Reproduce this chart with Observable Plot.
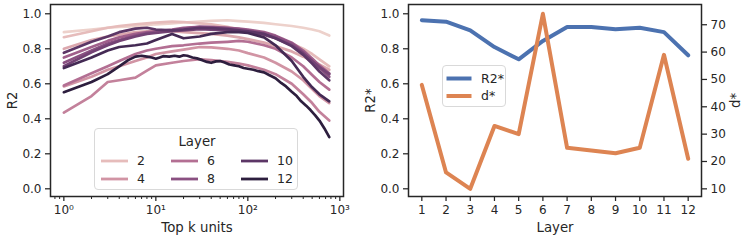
<!DOCTYPE html>
<html><head><meta charset="utf-8">
<script src="https://cdn.jsdelivr.net/npm/d3@7"></script>
<script src="https://cdn.jsdelivr.net/npm/@observablehq/plot@0.6"></script>
<style>
html,body{margin:0;padding:0;background:#fff;}
#wrap{position:relative;width:747px;height:240px;font-family:"DejaVu Sans",sans-serif;color:#262626;overflow:hidden;background:#fff}
.pane{position:absolute;top:0}
.legend{position:absolute;background:rgba(255,255,255,0.85);border:1px solid #d9d9d9;border-radius:4px;box-sizing:border-box}
.legend svg{position:absolute;left:0;top:0;overflow:visible}
</style></head><body><div id="wrap"></div>
<script>
// ---------- data ----------
const kUnits = [1,2,3,4,6,8,10,15,20,30,40,60,80,100,150,200,300,400,500,600,768];
const layer1  = [.895,.91,.92,.925,.93,.935,.94,.945,.95,.955,.96,.963,.958,.955,.948,.94,.93,.92,.91,.90,.876];
const layer2  = [.866,.90,.92,.93,.94,.945,.95,.955,.953,.945,.94,.925,.91,.90,.88,.86,.83,.80,.77,.74,.70];
const layer3  = [.80,.85,.87,.88,.895,.90,.905,.90,.895,.89,.885,.875,.865,.855,.835,.815,.785,.755,.73,.71,.68];
const layer4  = [.585,.64,.68,.70,.73,.75,.77,.785,.795,.81,.808,.80,.79,.775,.75,.72,.67,.62,.57,.53,.49];
const layer5  = [.435,.53,.61,.62,.635,.675,.705,.72,.73,.74,.735,.725,.715,.705,.68,.655,.60,.54,.49,.44,.39];
const layer6  = [.59,.66,.70,.73,.77,.79,.80,.815,.82,.83,.835,.84,.845,.84,.82,.80,.75,.70,.65,.61,.567];
const layer7  = [.75,.81,.845,.865,.885,.895,.90,.91,.92,.925,.925,.92,.915,.91,.895,.875,.835,.79,.745,.705,.66];
const layer8  = [.72,.79,.83,.85,.875,.89,.895,.905,.915,.925,.922,.918,.912,.906,.89,.87,.83,.78,.73,.69,.64];
const layer9  = [.70,.78,.82,.845,.87,.885,.89,.90,.905,.912,.91,.905,.90,.895,.88,.86,.82,.775,.73,.695,.655];
const layer10 = [.777,.84,.87,.895,.915,.92,.91,.905,.91,.92,.918,.912,.905,.90,.885,.86,.815,.765,.715,.67,.62];
const layer11 = [.69,.75,.79,.81,.82,.83,.85,.885,.86,.87,.885,.895,.895,.89,.865,.82,.73,.64,.58,.54,.50];
// layer 12 is read at more k values (its curve is visibly jagged)
const kUnitsL12 = [1,2,3,4,5,6,7,8,9,10,11,12,14,16,18,20,22,25,28,32,36,40,45,50,56,63,71,80,90,100,115,130,150,170,200,230,260,300,340,380,430,480,540,600,680,768];
const layer12   = [.552,.61,.655,.70,.735,.755,.76,.755,.75,.743,.75,.758,.755,.76,.755,.763,.76,.75,.745,.735,.725,.72,.728,.73,.722,.71,.705,.70,.69,.686,.68,.672,.665,.65,.632,.605,.585,.555,.53,.50,.475,.45,.42,.39,.345,.295];
const layerSeries = [layer1,layer2,layer3,layer4,layer5,layer6,layer7,layer8,layer9,layer10,layer11];

const layers = [1,2,3,4,5,6,7,8,9,10,11,12];
const r2Star = [.963,.955,.905,.81,.74,.845,.925,.925,.912,.92,.895,.763];
const dStar  = [48,16,10,33,30,74,25,24,23,25,59,21];

const kMajorTicks = [1,10,100,1000];
const kTickLabels = ["10⁰","10¹","10²","10³"];
const kMinorTicks = [0.8,0.9,2,3,4,5,6,7,8,9,20,30,40,50,60,70,80,90,200,300,400,500,600,700,800,900];
const r2Ticks = [0,0.2,0.4,0.6,0.8,1.0];
const dTicks = [10,20,30,40,50,60,70];
const legendLayers = [2,4,6,8,10,12];
const seriesNames = ["R2*","d*"];
const seriesColors = ["#4c72b0","#dd8452"];

// ---------- seaborn "ch:" cubehelix ----------
function helix(x){
  const start=0, rot=0.4, hue=0.8;
  const a = hue*x*(1-x)/2;
  const phi = 2*Math.PI*(start/3 + rot*x);
  const c = Math.cos(phi), s = Math.sin(phi);
  const r = x + a*(-0.14861*c + 1.78277*s);
  const g = x + a*(-0.29227*c - 0.90649*s);
  const b = x + a*(1.97294*c);
  const f = v => Math.round(Math.max(0,Math.min(1,v))*255);
  return `rgb(${f(r)},${f(g)},${f(b)})`;
}

const rows = layerSeries.flatMap((vals,i)=>vals.map((v,j)=>({k:kUnits[j], r2:v, layer:i+1})))
  .concat(layer12.map((v,j)=>({k:kUnitsL12[j], r2:v, layer:12})));
const ink = "#262626";
const style = {fontFamily:'"DejaVu Sans", sans-serif', fontSize:"12px", color:ink, background:"transparent", overflow:"visible"};
const H = 240;
const labelSize = 13.3;

const wrap = document.getElementById("wrap");
function place(node, left){ const d=document.createElement("div"); d.className="pane"; d.style.left=left+"px"; d.appendChild(node); wrap.appendChild(d); return d; }

function xTitle(t){ return Plot.text([t],{text:d=>d, frameAnchor:"bottom", textAnchor:"middle", lineAnchor:"middle", dy:31, fontSize:labelSize, fill:ink}); }
function yTitle(t, side, off){ return Plot.text([t],{text:d=>d, frameAnchor:side, textAnchor:"middle", lineAnchor:"middle", dx:side==="left"?-off:off, rotate:-90, fontSize:labelSize, fill:ink}); }

// ---------- left panel ----------
const leftPlot = Plot.plot({
  width:355, height:H, marginLeft:50, marginRight:12, marginTop:4, marginBottom:44,
  style,
  x:{type:"log", domain:[0.716,1096]},
  y:{domain:[-0.044,1.053]},
  color:{type:"linear", domain:[1,12], interpolate: t => helix(0.85-0.7*t)},
  marks:[
    Plot.axisY(r2Ticks,{tickFormat:d3.format(".1f"), tickSize:5, strokeWidth:1.25, label:null}),
    Plot.axisX(kMinorTicks,{tickSize:3, strokeWidth:1, tickFormat:()=>"", label:null}),
    Plot.axisX(kMajorTicks,{tickSize:5, strokeWidth:1.25, tickFormat:d=>kTickLabels[kMajorTicks.indexOf(d)], label:null}),
    xTitle("Top k units"),
    yTitle("R2","left",38),
    Plot.line(rows,{x:"k", y:"r2", z:"layer", stroke:"layer", strokeWidth:2.7, strokeLinejoin:"round"}),
    Plot.frame({stroke:ink, strokeWidth:1.5})
  ]
});
place(leftPlot, 0);

// left legend
const colorScale = leftPlot.scale("color");
(function(){
  const box = document.createElement("div"); box.className="legend";
  Object.assign(box.style,{left:"94px",top:"128px",width:"204px",height:"62px"});
  const ns="http://www.w3.org/2000/svg";
  const svg=document.createElementNS(ns,"svg"); svg.setAttribute("width",204); svg.setAttribute("height",62);
  const t=document.createElementNS(ns,"text"); t.setAttribute("x",102); t.setAttribute("y",16.5); t.setAttribute("text-anchor","middle");
  t.setAttribute("font-size","13.3"); t.setAttribute("fill",ink); t.setAttribute("font-family","DejaVu Sans"); t.textContent="Layer"; svg.appendChild(t);
  legendLayers.forEach((L,i)=>{
    const col=Math.floor(i/2), row=i%2;
    const x0=6+col*70, y=32+row*18;
    const ln=document.createElementNS(ns,"line");
    ln.setAttribute("x1",x0); ln.setAttribute("x2",x0+27); ln.setAttribute("y1",y); ln.setAttribute("y2",y);
    ln.setAttribute("stroke",colorScale.apply(L)); ln.setAttribute("stroke-width",2.8); svg.appendChild(ln);
    const tx=document.createElementNS(ns,"text"); tx.setAttribute("x",x0+36); tx.setAttribute("y",y+4.3);
    tx.setAttribute("font-size","12.5"); tx.setAttribute("fill",ink); tx.setAttribute("font-family","DejaVu Sans"); tx.textContent=String(L); svg.appendChild(tx);
  });
  box.appendChild(svg); wrap.appendChild(box);
})();

// ---------- right panel ----------
const common = {width:392, height:H, marginLeft:53, marginRight:46, marginTop:4, marginBottom:44, style};
const rightA = Plot.plot({
  ...common,
  x:{domain:[0.45,12.55]},
  y:{domain:[-0.044,1.053]},
  marks:[
    Plot.axisY(r2Ticks,{tickFormat:d3.format(".1f"), tickSize:5, strokeWidth:1.25, label:null}),
    Plot.axisX(layers,{tickSize:5, strokeWidth:1.25, tickFormat:d=>String(d), label:null}),
    xTitle("Layer"),
    yTitle("R2*","left",38),
    Plot.line(layers,{x:d=>d, y:(d,i)=>r2Star[i], stroke:seriesColors[0], strokeWidth:4})
  ]
});
place(rightA, 355);
const rightB = Plot.plot({
  ...common,
  x:{domain:[0.45,12.55], axis:null},
  y:{domain:[7.2,77.4]},
  marks:[
    Plot.axisY(dTicks,{anchor:"right", tickSize:5, strokeWidth:1.25, label:null}),
    yTitle("d*","right",34),
    Plot.line(layers,{x:d=>d, y:(d,i)=>dStar[i], stroke:seriesColors[1], strokeWidth:4}),
    Plot.frame({stroke:ink, strokeWidth:1.5})
  ]
});
place(rightB, 355);

// right legend
(function(){
  const box=document.createElement("div"); box.className="legend";
  Object.assign(box.style,{left:"442px",top:"65px",width:"64px",height:"42px"});
  const ns="http://www.w3.org/2000/svg";
  const svg=document.createElementNS(ns,"svg"); svg.setAttribute("width",64); svg.setAttribute("height",42);
  seriesNames.forEach((nm,i)=>{
    const y=12.5+i*17.5;
    const ln=document.createElementNS(ns,"line");
    ln.setAttribute("x1",3.5); ln.setAttribute("x2",28.5); ln.setAttribute("y1",y); ln.setAttribute("y2",y);
    ln.setAttribute("stroke",seriesColors[i]); ln.setAttribute("stroke-width",4); svg.appendChild(ln);
    const tx=document.createElementNS(ns,"text"); tx.setAttribute("x",38); tx.setAttribute("y",y+4.3);
    tx.setAttribute("font-size","12.5"); tx.setAttribute("fill",ink); tx.setAttribute("font-family","DejaVu Sans"); tx.textContent=nm; svg.appendChild(tx);
  });
  box.appendChild(svg); wrap.appendChild(box);
})();
</script></body></html>
